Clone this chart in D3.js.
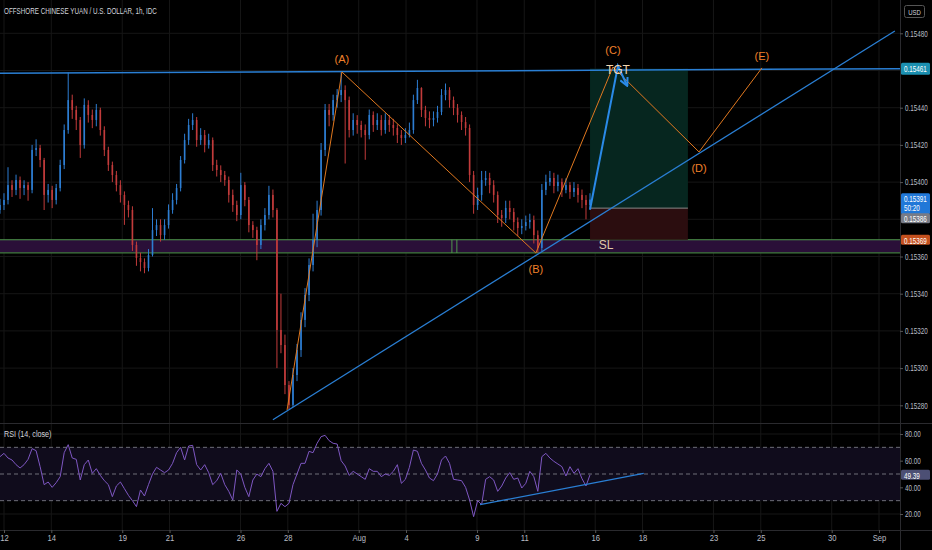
<!DOCTYPE html>
<html>
<head>
<meta charset="utf-8">
<script src="https://cdn.jsdelivr.net/npm/d3@7"></script>
<style>
  html, body { margin: 0; padding: 0; background: #000; }
  svg { display: block; font-family: "Liberation Sans", sans-serif; }
</style>
</head>
<body>
<div id="chart"></div>
<script>
var svgWidth = 932;
var svgHeight = 550;
var plotRight = 900;

// 4h-ish bars (prices)
var closes = [0.153877,0.153904,0.153984,0.153958,0.154011,0.153968,0.153984,0.153958,0.154173,0.154183,
  0.154119,0.153931,0.153958,0.153904,0.153968,0.154092,0.154280,0.154441,0.154388,0.154334,
  0.154199,0.154415,0.154361,0.154334,0.154388,0.154280,0.154173,0.154092,0.154038,0.153984,
  0.153931,0.153877,0.153850,0.153662,0.153592,0.153570,0.153538,0.153608,0.153742,0.153769,
  0.153715,0.153769,0.153850,0.153904,0.153968,0.154119,0.154226,0.154307,0.154334,0.154226,
  0.154253,0.154199,0.154226,0.154092,0.154065,0.154038,0.154011,0.153931,0.153877,0.153823,
  0.153984,0.153904,0.153769,0.153742,0.153662,0.153769,0.153823,0.153931,0.153850,0.153205,
  0.153124,0.152909,0.152802,0.152963,0.153097,0.153259,0.153393,0.153554,0.153689,0.153850,
  0.154173,0.154388,0.154361,0.154441,0.154468,0.154495,0.154441,0.154280,0.154334,0.154307,
  0.154280,0.154253,0.154361,0.154307,0.154334,0.154280,0.154334,0.154307,0.154291,0.154253,
  0.154237,0.154253,0.154280,0.154441,0.154506,0.154388,0.154345,0.154334,0.154345,0.154377,
  0.154468,0.154495,0.154441,0.154398,0.154361,0.154323,0.154291,0.154038,0.153877,0.153931,
  0.154011,0.154022,0.153984,0.153931,0.153823,0.153807,0.153861,0.153839,0.153785,0.153753,
  0.153764,0.153785,0.153796,0.153715,0.153646,0.153958,0.154001,0.154022,0.153979,0.154001,
  0.153958,0.153984,0.153947,0.153968,0.153931,0.153904,0.153877,0.153906];
var highs = [0.15391,0.15394,0.15408,0.15401,0.15404,0.15403,0.15401,0.15400,0.15420,0.15423,
  0.15420,0.15413,0.15399,0.15398,0.15399,0.15412,0.15431,0.15459,0.15447,0.15441,
  0.15435,0.15445,0.15444,0.15439,0.15442,0.15440,0.15430,0.15419,0.15411,0.15406,
  0.15401,0.15395,0.15390,0.15387,0.15368,0.15362,0.15359,0.15364,0.15386,0.15380,
  0.15380,0.15380,0.15388,0.15394,0.15399,0.15414,0.15426,0.15434,0.15437,0.15435,
  0.15429,0.15428,0.15426,0.15424,0.15412,0.15409,0.15406,0.15403,0.15396,0.15390,
  0.15405,0.15400,0.15392,0.15379,0.15376,0.15380,0.15386,0.15398,0.15396,0.15386,
  0.15340,0.15318,0.15293,0.15300,0.15313,0.15330,0.15343,0.15359,0.15383,0.15390,
  0.15421,0.15442,0.15442,0.15447,0.15450,0.15459,0.15452,0.15446,0.15437,0.15436,
  0.15433,0.15431,0.15439,0.15438,0.15437,0.15436,0.15437,0.15436,0.15434,0.15431,
  0.15428,0.15429,0.15432,0.15447,0.15455,0.15451,0.15441,0.15438,0.15438,0.15441,
  0.15450,0.15453,0.15451,0.15446,0.15442,0.15438,0.15435,0.15431,0.15406,0.15397,
  0.15406,0.15406,0.15405,0.15401,0.15395,0.15385,0.15390,0.15390,0.15386,0.15381,
  0.15380,0.15382,0.15383,0.15382,0.15374,0.15399,0.15404,0.15406,0.15405,0.15404,
  0.15402,0.15402,0.15400,0.15400,0.15399,0.15396,0.15393,0.15394];
var lows = [0.15383,0.15385,0.15388,0.15392,0.15393,0.15391,0.15393,0.15390,0.15394,0.15414,
  0.15408,0.15385,0.15389,0.15386,0.15388,0.15395,0.15407,0.15426,0.15434,0.15428,
  0.15413,0.15418,0.15432,0.15429,0.15430,0.15425,0.15414,0.15406,0.15400,0.15395,
  0.15389,0.15377,0.15381,0.15363,0.15355,0.15352,0.15351,0.15352,0.15360,0.15371,
  0.15368,0.15369,0.15375,0.15383,0.15388,0.15395,0.15410,0.15420,0.15428,0.15419,
  0.15420,0.15416,0.15418,0.15406,0.15403,0.15400,0.15398,0.15389,0.15384,0.15379,
  0.15380,0.15387,0.15373,0.15370,0.15358,0.15364,0.15374,0.15380,0.15381,0.15300,
  0.15308,0.15286,0.15278,0.15279,0.15293,0.15306,0.15322,0.15336,0.15352,0.15365,
  0.15382,0.15414,0.15430,0.15433,0.15440,0.15443,0.15410,0.15424,0.15425,0.15426,
  0.15424,0.15412,0.15423,0.15427,0.15428,0.15425,0.15426,0.15427,0.15425,0.15421,
  0.15420,0.15421,0.15424,0.15426,0.15442,0.15435,0.15430,0.15429,0.15430,0.15432,
  0.15436,0.15444,0.15440,0.15436,0.15432,0.15428,0.15425,0.15400,0.15383,0.15385,
  0.15390,0.15398,0.15394,0.15389,0.15378,0.15376,0.15378,0.15380,0.15374,0.15371,
  0.15372,0.15374,0.15375,0.15367,0.15362,0.15363,0.15393,0.15398,0.15394,0.15395,
  0.15392,0.15394,0.15391,0.15392,0.15389,0.15386,0.15380,0.15385];
var firstOpen = 0.15385;

var rsi = [63,65.5,62,60.5,57,54.5,57,61,69,67.5,55.5,42,44,40,43.5,48,66,72,62,61,
  45.5,57,60.5,50.5,54,49,45,42,33,41,44,39,34,30,25.5,38,33.5,42,50,55,
  53,51,53,58,66,70,60.5,71,71.5,57,53,57,51,42,45,50.5,42,37,30.5,53,
  50,40,33,45.5,50,48,54,58,52,22,28,25.5,28,42,50,58,58,67,66,73,
  78,79,75,73,72.5,60,56,49,52,50,48,46,54,52,52,48,50,49,52,57,
  43,46,55,68,67,58,53,47,45,50,60.5,63.5,58,46,45.5,45,40,30.5,18,30,
  27,46,48,45.5,37,41,47,51,46,47,39.5,43,52,48,37,63,65.5,62,59.5,57.5,
  55.5,48.5,55.5,50.5,54,46.5,41,49.39];

// time axis: trading-day index (Jul 12 = 0)
var dayTicks = [0, 2, 5, 7, 10, 12, 15, 17, 20, 22, 25, 27, 30, 32, 35, 37];
var dayLabels = ["12", "14", "19", "21", "26", "28", "Aug", "4", "9", "11", "16", "18", "23", "25", "30", "Sep"];
var firstBarDay = -0.17;
var lastBarDay = 24.78;

var priceTicks = [0.1528, 0.1530, 0.1532, 0.1534, 0.1536, 0.1538, 0.1540, 0.1542, 0.1544, 0.1546, 0.1548];
var priceLabels = [0.1528, 0.1530, 0.1532, 0.1534, 0.1536, 0.1540, 0.1542, 0.1544, 0.1548];
var rsiTicks = [20, 40, 60, 80];
var rsiLevels = [70, 50, 30];

// drawings: [day, price]
var resistance = [[-0.17, 0.154585], [37.9, 0.154610]];
var support = [[11.37, 0.152722], [37.67, 0.154812]];
var waves = [[11.97, 0.152775], [14.29, 0.154592], [22.49, 0.153619], [25.75, 0.154619], [29.39, 0.154162], [32.05, 0.154614]];
var waveNames = ["(A)", "(B)", "(C)", "(D)", "(E)"];
var projection = [[24.78, 0.153853], [25.96, 0.154624], [26.34, 0.154522]];
var zoneTop = 0.15369, zoneBottom = 0.153619;
var zoneMarks = [18.94, 19.15];
var boxStart = 24.78, boxEnd = 28.92;
var target = 0.15461, entry = 0.15386, stopLoss = 0.15369;
var rsiLine = [[20.13, 27], [27.05, 50.5]];
var lastPrice = 0.15391, countdown = "50:20";

var x = d3.scaleLinear().domain([0, 37]).range([4, 879]);
var y = d3.scaleLinear().domain([0.1528, 0.1548]).range([405.3, 33.3]);
var yr = d3.scaleLinear().domain([20, 80]).range([514, 434]);
var barDay = d3.scaleLinear().domain([0, closes.length - 1]).range([firstBarDay, lastBarDay]);

// narrow look: squeeze text horizontally
var squeeze = 0.7;

var svg = d3.select("#chart").append("svg")
  .attr("width", svgWidth)
  .attr("height", svgHeight);

svg.append("rect").attr("width", svgWidth).attr("height", svgHeight).attr("fill", "#000");

var defs = svg.append("defs");
defs.append("clipPath").attr("id", "mainClip")
  .append("rect").attr("x", 0).attr("y", 0).attr("width", plotRight).attr("height", 423);
defs.append("clipPath").attr("id", "rsiClip")
  .append("rect").attr("x", 0).attr("y", 424).attr("width", plotRight).attr("height", 106);
defs.append("marker").attr("id", "arrow").attr("viewBox", "0 0 10 10")
  .attr("refX", 8).attr("refY", 5).attr("markerWidth", 5).attr("markerHeight", 5)
  .attr("orient", "auto-start-reverse")
  .append("path").attr("d", "M1,1 L9,5 L1,9").attr("fill", "none")
  .attr("stroke", "#2a8ae8").attr("stroke-width", 2);

// grid
var grid = svg.append("g");
grid.selectAll(".vg").data(dayTicks).enter().append("line")
  .attr("x1", d => x(d)).attr("x2", d => x(d))
  .attr("y1", 0).attr("y2", 530)
  .attr("stroke", "#161616");
grid.selectAll(".hg").data(priceTicks).enter().append("line")
  .attr("x1", 0).attr("x2", plotRight)
  .attr("y1", d => y(d)).attr("y2", d => y(d))
  .attr("stroke", "#161616");
grid.selectAll(".rg").data(rsiTicks).enter().append("line")
  .attr("x1", 0).attr("x2", plotRight)
  .attr("y1", d => yr(d)).attr("y2", d => yr(d))
  .attr("stroke", "#161616");

var main = svg.append("g").attr("clip-path", "url(#mainClip)");

// purple zone
main.append("rect")
  .attr("x", 0).attr("width", plotRight)
  .attr("y", y(zoneTop)).attr("height", y(zoneBottom) - y(zoneTop))
  .attr("fill", "#2a0f38");
main.append("line").attr("x1", 0).attr("x2", plotRight)
  .attr("y1", y(zoneTop)).attr("y2", y(zoneTop))
  .attr("stroke", "#4f9a4c").attr("stroke-width", 1.2);
main.append("line").attr("x1", 0).attr("x2", plotRight)
  .attr("y1", y(zoneBottom)).attr("y2", y(zoneBottom))
  .attr("stroke", "#3f7a3c").attr("stroke-width", 1.2);
main.selectAll(".zm").data(zoneMarks).enter().append("line")
  .attr("x1", d => x(d)).attr("x2", d => x(d))
  .attr("y1", y(zoneTop)).attr("y2", y(zoneBottom))
  .attr("stroke", "#4f9a4c");

// long position box
main.append("rect")
  .attr("x", x(boxStart)).attr("width", x(boxEnd) - x(boxStart))
  .attr("y", y(target)).attr("height", y(entry) - y(target))
  .attr("fill", "#06261f");
main.append("rect")
  .attr("x", x(boxStart)).attr("width", x(boxEnd) - x(boxStart))
  .attr("y", y(entry)).attr("height", y(stopLoss) - y(entry))
  .attr("fill", "#2b0d0f");
main.append("line")
  .attr("x1", x(boxStart)).attr("x2", x(boxEnd))
  .attr("y1", y(entry)).attr("y2", y(entry))
  .attr("stroke", "#8a8a8a");

// candles
var bars = closes.map(function(c, i) {
  var o = i === 0 ? firstOpen : closes[i - 1];
  return {day: barDay(i), o: o, c: c,
    h: Math.max(highs[i], o, c), l: Math.min(lows[i], o, c)};
});
var upColor = "#2d7dd2", downColor = "#c23b3b";
var candles = main.selectAll(".candle").data(bars).enter().append("g");
candles.append("line")
  .attr("x1", d => x(d.day)).attr("x2", d => x(d.day))
  .attr("y1", d => y(d.h)).attr("y2", d => y(d.l))
  .attr("stroke", d => d.c >= d.o ? upColor : downColor)
  .attr("stroke-width", 1);
candles.append("rect")
  .attr("x", d => x(d.day) - 0.8)
  .attr("width", 1.6)
  .attr("y", d => y(Math.max(d.o, d.c)))
  .attr("height", d => Math.max(1, Math.abs(y(d.o) - y(d.c))))
  .attr("fill", d => d.c >= d.o ? upColor : downColor);

// trend lines
var line = d3.line().x(d => x(d[0])).y(d => y(d[1]));
main.append("path").attr("d", line(resistance))
  .attr("fill", "none").attr("stroke", "#2a7fd4").attr("stroke-width", 1.5);
main.append("path").attr("d", line(support))
  .attr("fill", "none").attr("stroke", "#2a7fd4").attr("stroke-width", 1.3);

// waves
main.append("path").attr("d", line(waves))
  .attr("fill", "none").attr("stroke", "#e0781f").attr("stroke-width", 1);
var waveOffsets = [-13, 16, -17, 16, -12];
main.selectAll(".wl").data(waves.slice(1)).enter().append("text")
  .attr("x", d => x(d[0]))
  .attr("y", (d, i) => y(d[1]) + waveOffsets[i] + 4)
  .attr("text-anchor", "middle")
  .attr("font-size", "11px")
  .attr("fill", "#f0802a")
  .text((d, i) => waveNames[i]);

// projected path
main.append("path").attr("d", line(projection))
  .attr("fill", "none").attr("stroke", "#2a8ae8").attr("stroke-width", 2)
  .attr("marker-end", "url(#arrow)");

main.append("text")
  .attr("x", x(projection[1][0])).attr("y", y(target) + 5)
  .attr("text-anchor", "middle").attr("font-size", "12px")
  .attr("fill", "#f3d6b0").text("TGT");
main.append("text")
  .attr("x", x(boxStart) + 16).attr("y", y(stopLoss) + 9)
  .attr("text-anchor", "middle").attr("font-size", "12px")
  .attr("fill", "#e0c8a8").text("SL");

// RSI pane
var rsiPane = svg.append("g").attr("clip-path", "url(#rsiClip)");
rsiPane.append("rect")
  .attr("x", 0).attr("width", plotRight)
  .attr("y", yr(70)).attr("height", yr(30) - yr(70))
  .attr("fill", "#100c1c");
rsiPane.selectAll(".lvl").data(rsiLevels).enter().append("line")
  .attr("x1", 0).attr("x2", plotRight)
  .attr("y1", d => yr(d)).attr("y2", d => yr(d))
  .attr("stroke", "#6e6e78").attr("stroke-dasharray", "4,3");
rsiPane.append("path")
  .datum(rsi)
  .attr("d", d3.line().x((d, i) => x(barDay(i))).y(d => yr(d)))
  .attr("fill", "none").attr("stroke", "#7e57c2").attr("stroke-width", 1);
rsiPane.append("path")
  .attr("d", d3.line().x(d => x(d[0])).y(d => yr(d[1]))(rsiLine))
  .attr("fill", "none").attr("stroke", "#2a7fd4").attr("stroke-width", 1.3);

// pane separators
svg.append("line").attr("x1", 0).attr("x2", svgWidth).attr("y1", 423.5).attr("y2", 423.5)
  .attr("stroke", "#2a2a2e");
svg.append("line").attr("x1", 0).attr("x2", svgWidth).attr("y1", 530.5).attr("y2", 530.5)
  .attr("stroke", "#2a2a2e");
svg.append("line").attr("x1", plotRight + 0.5).attr("x2", plotRight + 0.5).attr("y1", 0).attr("y2", 550)
  .attr("stroke", "#2a2a2e");

// axes
var priceAxis = d3.axisRight(y)
  .tickValues(priceLabels)
  .tickFormat(d3.format(".5f"))
  .tickSize(3).tickPadding(2);
var pa = svg.append("g").attr("transform", "translate(" + plotRight + ",0)").call(priceAxis);
var rsiAxis = d3.axisRight(yr)
  .tickValues(rsiTicks)
  .tickFormat(d3.format(".2f"))
  .tickSize(3).tickPadding(2);
var ra = svg.append("g").attr("transform", "translate(" + plotRight + ",0)").call(rsiAxis);
var timeAxis = d3.axisBottom(x)
  .tickValues(dayTicks)
  .tickFormat((d, i) => dayLabels[i])
  .tickSize(3).tickPadding(2);
var ta = svg.append("g").attr("transform", "translate(0,530)").call(timeAxis);
[pa, ra, ta].forEach(function(g) {
  g.select(".domain").remove();
  g.selectAll(".tick line").attr("stroke", "#555");
  g.selectAll(".tick text").attr("fill", "#b8bcc4")
    .attr("font-size", "9px")
    .attr("font-family", "Liberation Sans, sans-serif");
});
[pa, ra].forEach(function(g) {
  g.selectAll(".tick text")
    .attr("x", 5 / squeeze)
    .attr("transform", "scale(" + squeeze + ",1)");
});
ta.selectAll(".tick text").attr("transform", "scale(0.85,1)");

// price tags
function tag(yc, h, color, lines) {
  var g = svg.append("g");
  g.append("rect").attr("x", plotRight + 1).attr("y", yc - h / 2)
    .attr("width", 29).attr("height", h).attr("rx", 1.5).attr("fill", color);
  lines.forEach(function(t, i) {
    g.append("text")
      .attr("transform", "translate(" + (plotRight + 4) + "," + (yc - h / 2 + 9 + i * 9) + ") scale(" + squeeze + ",1)")
      .attr("font-size", "9px").attr("fill", "#fff")
      .text(t);
  });
}
tag(y(target), 12, "#1b8fb0", [d3.format(".5f")(target)]);
tag(y(lastPrice) + 5, 21, "#2178d8", [d3.format(".5f")(lastPrice), countdown]);
tag(y(entry) + 10, 10, "#787b86", [d3.format(".5f")(entry)]);
tag(y(stopLoss), 10, "#c4501e", [d3.format(".5f")(stopLoss)]);
tag(yr(rsi[rsi.length - 1]), 10, "#4c4f74", [d3.format(".2f")(rsi[rsi.length - 1])]);

// header texts
svg.append("text").attr("transform", "translate(4,14) scale(" + squeeze + ",1)")
  .attr("font-size", "9px").attr("fill", "#d1d4dc")
  .text("OFFSHORE CHINESE YUAN / U.S. DOLLAR, 1h, IDC");
svg.append("text").attr("transform", "translate(4,437) scale(0.8,1)")
  .attr("font-size", "9px").attr("fill", "#d1d4dc")
  .text("RSI (14, close)");
svg.append("rect").attr("x", 904.5).attr("y", 5.5).attr("width", 20).attr("height", 12)
  .attr("rx", 2).attr("fill", "none").attr("stroke", "#555");
svg.append("text").attr("transform", "translate(914.5,14.5) scale(0.75,1)")
  .attr("text-anchor", "middle")
  .attr("font-size", "8px").attr("fill", "#d1d4dc").text("USD");
</script>
</body>
</html>
